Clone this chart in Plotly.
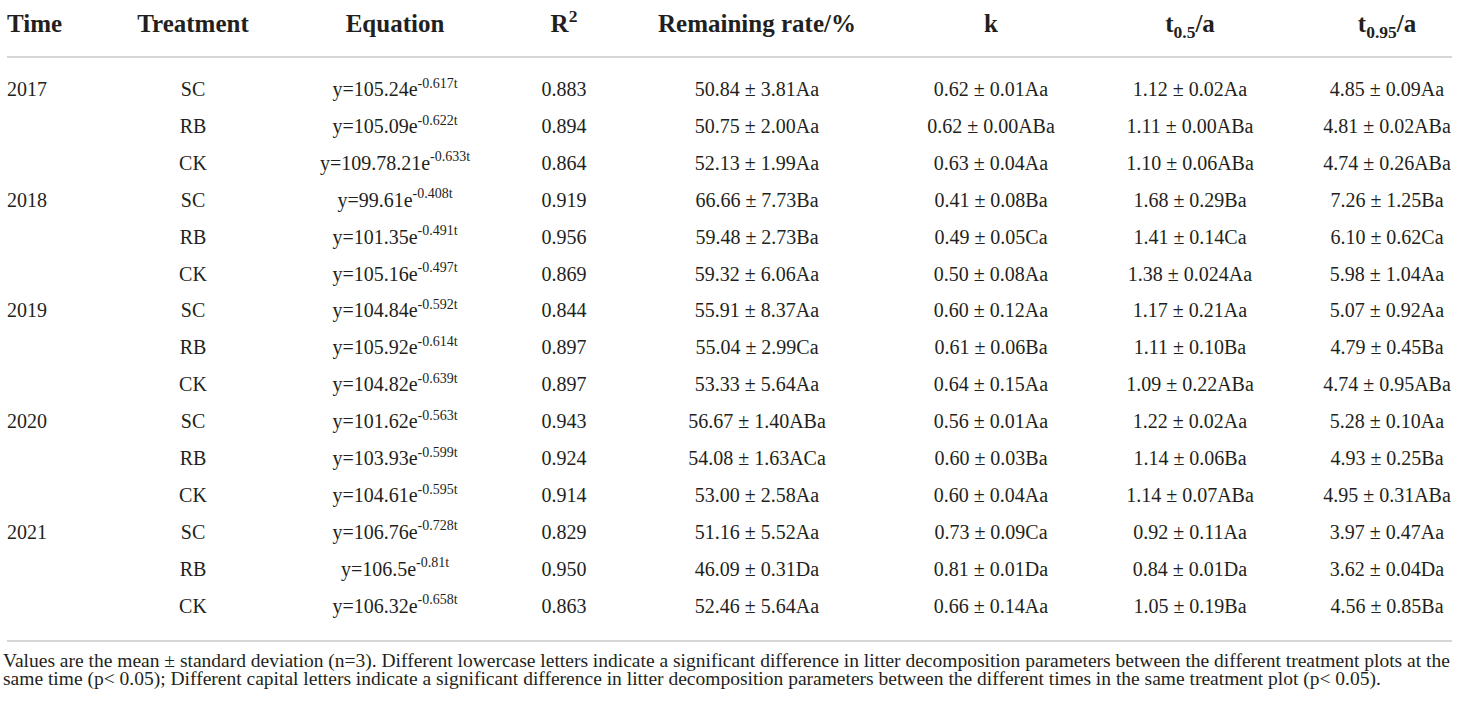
import plotly.graph_objects as go

# Table data
years = ["2017", "2018", "2019", "2020", "2021"]
treatments = ["SC", "RB", "CK"]

eq_coef = ["105.24", "105.09", "109.78.21", "99.61", "101.35", "105.16", "104.84", "105.92",
           "104.82", "101.62", "103.93", "104.61", "106.76", "106.5", "106.32"]
eq_rate = ["0.617", "0.622", "0.633", "0.408", "0.491", "0.497", "0.592", "0.614",
           "0.639", "0.563", "0.599", "0.595", "0.728", "0.81", "0.658"]
r2 = ["0.883", "0.894", "0.864", "0.919", "0.956", "0.869", "0.844", "0.897",
      "0.897", "0.943", "0.924", "0.914", "0.829", "0.950", "0.863"]
remaining = ["50.84 ± 3.81Aa", "50.75 ± 2.00Aa", "52.13 ± 1.99Aa", "66.66 ± 7.73Ba",
             "59.48 ± 2.73Ba", "59.32 ± 6.06Aa", "55.91 ± 8.37Aa", "55.04 ± 2.99Ca",
             "53.33 ± 5.64Aa", "56.67 ± 1.40ABa", "54.08 ± 1.63ACa", "53.00 ± 2.58Aa",
             "51.16 ± 5.52Aa", "46.09 ± 0.31Da", "52.46 ± 5.64Aa"]
k_vals = ["0.62 ± 0.01Aa", "0.62 ± 0.00ABa", "0.63 ± 0.04Aa", "0.41 ± 0.08Ba",
          "0.49 ± 0.05Ca", "0.50 ± 0.08Aa", "0.60 ± 0.12Aa", "0.61 ± 0.06Ba",
          "0.64 ± 0.15Aa", "0.56 ± 0.01Aa", "0.60 ± 0.03Ba", "0.60 ± 0.04Aa",
          "0.73 ± 0.09Ca", "0.81 ± 0.01Da", "0.66 ± 0.14Aa"]
t05 = ["1.12 ± 0.02Aa", "1.11 ± 0.00ABa", "1.10 ± 0.06ABa", "1.68 ± 0.29Ba",
       "1.41 ± 0.14Ca", "1.38 ± 0.024Aa", "1.17 ± 0.21Aa", "1.11 ± 0.10Ba",
       "1.09 ± 0.22ABa", "1.22 ± 0.02Aa", "1.14 ± 0.06Ba", "1.14 ± 0.07ABa",
       "0.92 ± 0.11Aa", "0.84 ± 0.01Da", "1.05 ± 0.19Ba"]
t095 = ["4.85 ± 0.09Aa", "4.81 ± 0.02ABa", "4.74 ± 0.26ABa", "7.26 ± 1.25Ba",
        "6.10 ± 0.62Ca", "5.98 ± 1.04Aa", "5.07 ± 0.92Aa", "4.79 ± 0.45Ba",
        "4.74 ± 0.95ABa", "5.28 ± 0.10Aa", "4.93 ± 0.25Ba", "4.95 ± 0.31ABa",
        "3.97 ± 0.47Aa", "3.62 ± 0.04Da", "4.56 ± 0.85Ba"]

headers = ["Time", "Treatment", "Equation", "R<sup>2</sup>", "Remaining rate/%", "k",
           "t<sub>0.5</sub>/a", "t<sub>0.95</sub>/a"]

footnote = [
    "Values are the mean ± standard deviation (n=3). Different lowercase letters indicate a significant "
    "difference in litter decomposition parameters between the different treatment plots at the",
    "same time (p< 0.05); Different capital letters indicate a significant difference in litter "
    "decomposition parameters between the different times in the same treatment plot (p< 0.05).",
]

# Layout (pixels)
W, H = 1460, 706
col_x = [7, 193, 395, 564, 757, 991, 1190, 1387]
row0, row_h = 91, 36.9
header_y = 26
rule_top, rule_bottom = 57, 641
foot_y = [661, 679]
line_left, line_right = 7, 1452

font_family = "Liberation Serif, Times New Roman, serif"
text_color = "#231f20"
rule_color = "#c9c9c9"


def to_row(py):
    # convert a pixel position to row units
    return (py - row0) / row_h


n_rows = len(years) * len(treatments)
rows = list(range(n_rows))

treat_col = [treatments[i % len(treatments)] for i in rows]
eq_col = [f"y={c}e<sup>-{r}t</sup>" for c, r in zip(eq_coef, eq_rate)]

columns = [treat_col, eq_col, r2, remaining, k_vals, t05, t095]

fig = go.Figure()

# Time column: one label per year group
fig.add_trace(go.Scatter(
    x=[col_x[0]] * len(years),
    y=[g * len(treatments) for g in range(len(years))],
    mode="text",
    text=years,
    textposition="middle right",
    textfont=dict(family=font_family, size=20, color=text_color),
    cliponaxis=False,
    hoverinfo="skip",
    showlegend=False,
))

for j, col in enumerate(columns, start=1):
    fig.add_trace(go.Scatter(
        x=[col_x[j]] * n_rows,
        y=rows,
        mode="text",
        text=col,
        textposition="middle center",
        textfont=dict(family=font_family, size=20, color=text_color),
        cliponaxis=False,
        hoverinfo="skip",
        showlegend=False,
    ))

# Header row
fig.add_trace(go.Scatter(
    x=col_x,
    y=[to_row(header_y)] * len(headers),
    mode="text",
    text=[f"<b>{h}</b>" for h in headers],
    textposition=["middle right"] + ["middle center"] * (len(headers) - 1),
    textfont=dict(family=font_family, size=25, color=text_color),
    cliponaxis=False,
    hoverinfo="skip",
    showlegend=False,
))

# Horizontal rules
for py in (rule_top, rule_bottom):
    fig.add_shape(type="line", xref="x", yref="y",
                  x0=line_left, x1=line_right, y0=to_row(py), y1=to_row(py),
                  line=dict(color=rule_color, width=1.5))

# Footnote
for text, py in zip(footnote, foot_y):
    fig.add_annotation(x=2, y=to_row(py), xref="x", yref="y", text=text,
                       showarrow=False, xanchor="left", yanchor="middle",
                       borderpad=0,
                       font=dict(family=font_family, size=19.5, color=text_color))

fig.update_layout(
    width=W, height=H,
    margin=dict(l=0, r=0, t=0, b=0),
    paper_bgcolor="white",
    plot_bgcolor="white",
    xaxis=dict(range=[0, W], visible=False, fixedrange=True),
    yaxis=dict(range=[to_row(H), to_row(0)], visible=False, fixedrange=True),
)

# drop the default page margin so the figure sits at the window's corner
fig.write_html("out.html", config={"displayModeBar": False},
               post_script="document.body.style.margin='0';document.body.style.overflow='hidden';")
